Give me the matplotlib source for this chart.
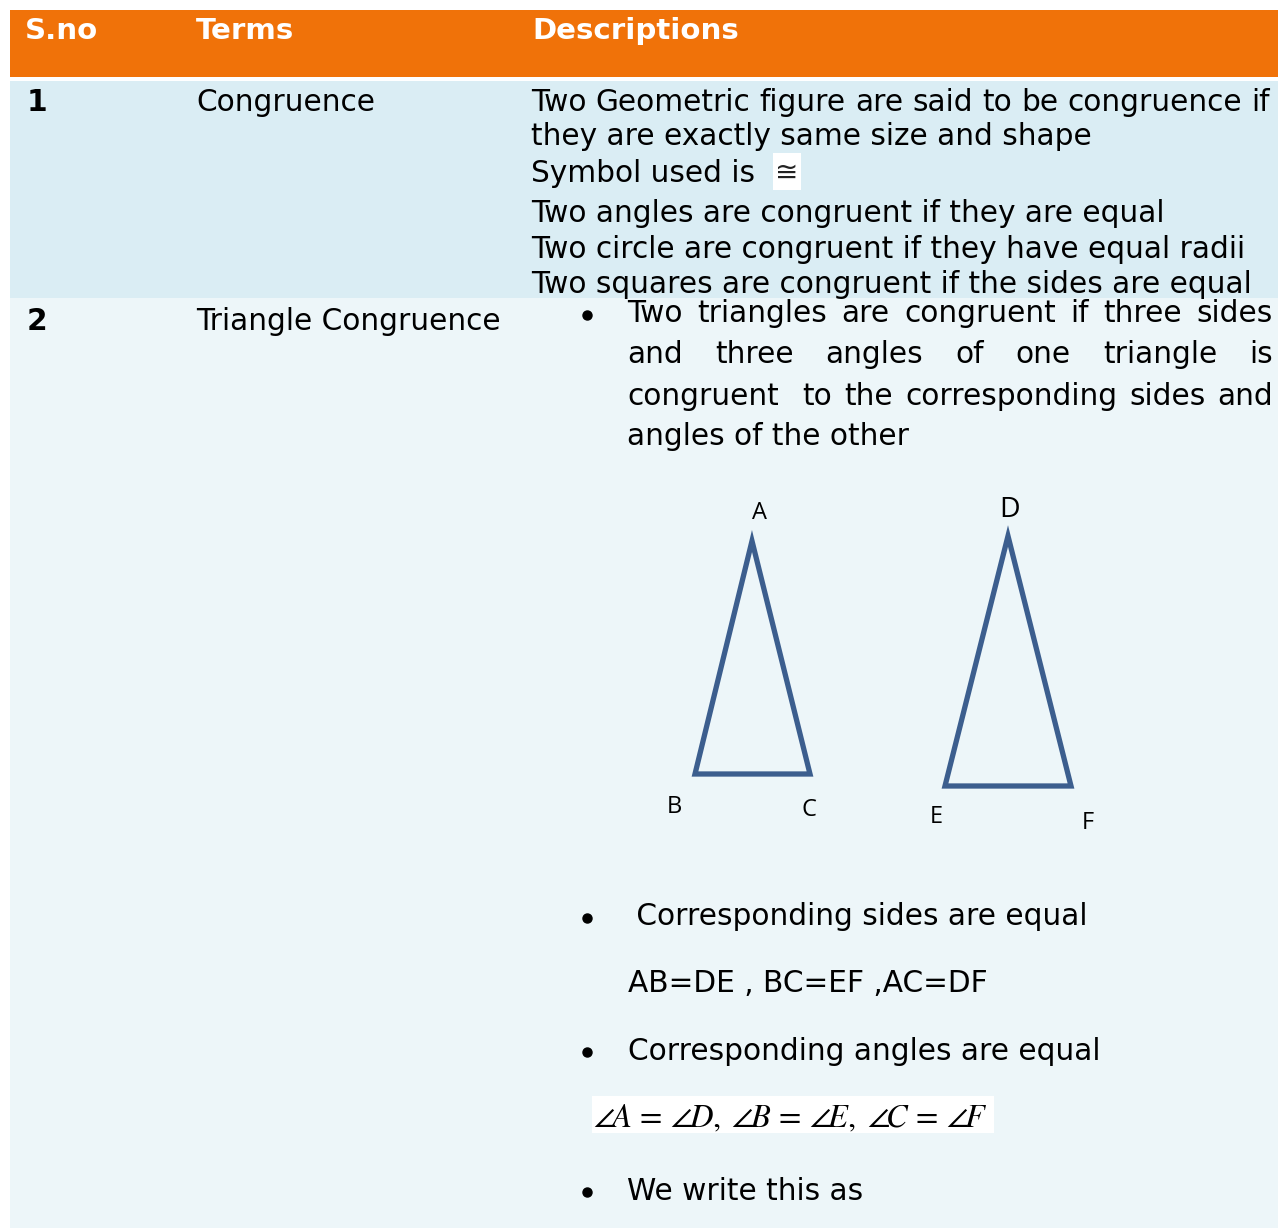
import matplotlib
matplotlib.use("Agg")
import matplotlib.pyplot as plt
from matplotlib.patches import Rectangle, Polygon

# ---------------- data ----------------
headers = ["S.no", "Terms", "Descriptions"]
row_numbers = ["1", "2"]
terms = ["Congruence", "Triangle Congruence"]
row1_lines = [
    "Two Geometric figure are said to be congruence if",
    "they are exactly same size and shape",
    "Symbol used is ",
    "Two angles are congruent if they are equal",
    "Two circle are congruent if they have equal radii",
    "Two squares are congruent if the sides are equal",
]
congruence_symbol = "\u2245"
bullet1_lines = [
    "Two triangles are congruent if three sides",
    "and three angles of one triangle is",
    "congruent  to the corresponding sides and",
    "angles of the other",
]
bullet2 = " Corresponding sides are equal"
sides_eq = "AB=DE , BC=EF ,AC=DF"
bullet3 = "Corresponding angles are equal"
angles_eq = (r"$\angle\!A\,=\,\angle\!D,\;\angle\!B\,=\,\angle\!E,\;"
             r"\angle\!C\,=\,\angle\!F$")
bullet4 = "We write this as"
tri1_names = ["A", "B", "C"]
tri1_xy = [(752, 541), (695, 774), (810, 774)]
tri2_names = ["D", "E", "F"]
tri2_xy = [(1008, 536), (945, 786), (1071, 786)]

# ---------------- style ----------------
ORANGE = "#F07209"
ROW1 = "#DAEDF4"
ROW2 = "#EDF6F9"
TRI = "#3C5E8E"
FS = 21.3
FONT = "DejaVu Sans"
plt.rcParams["mathtext.fontset"] = "stix"

fig = plt.figure(figsize=(12.78, 12.30), dpi=100)
fig.patch.set_facecolor("white")
ax = fig.add_axes([0, 0, 1, 1])
ax.set_xlim(0, 1278)
ax.set_ylim(1230, 0)
ax.axis("off")

ax.add_patch(Rectangle((10, 10), 1268, 67, facecolor=ORANGE, edgecolor="none"))
ax.add_patch(Rectangle((10, 81), 1268, 217, facecolor=ROW1, edgecolor="none"))
ax.add_patch(Rectangle((10, 298), 1268, 930, facecolor=ROW2, edgecolor="none"))

renderer = fig.canvas.get_renderer()


def txt(x, y, s, **kw):
    opts = dict(fontsize=FS, family=FONT, color="black", va="baseline", ha="left")
    opts.update(kw)
    return ax.text(x, y, s, **opts)


def justify(x0, x1, y, line, **kw):
    words = line.split(" ")
    arts = [txt(x0, y, w, **kw) for w in words]
    widths = [a.get_window_extent(renderer).width for a in arts]
    gap = (x1 - x0 - sum(widths)) / max(len(words) - 1, 1)
    x = x0
    for a, w in zip(arts, widths):
        a.set_x(x)
        x += w + gap


# header
for x, h in zip([25, 196, 532], headers):
    txt(x, 39, h, color="white", fontweight="bold", fontsize=FS * 0.99)

# row 1
txt(27, 111, row_numbers[0], fontweight="bold")
txt(196, 111, terms[0])
row1_base = [111, 145, 182, 222, 258, 293]
justify(531, 1270, row1_base[0], row1_lines[0])
for yb, line in zip(row1_base[1:], row1_lines[1:]):
    txt(531, yb, line)
ax.add_patch(Rectangle((773, 153), 28, 37, facecolor="white", edgecolor="none"))
ax.text(787, 173, congruence_symbol, fontsize=20,
        family=["DejaVu Serif", "DejaVu Sans", "Noto Sans"],
        ha="center", va="center", color="#222222")

# row 2
txt(27, 330, row_numbers[1], fontweight="bold")
txt(196, 330, terms[1])
b1_base = [322, 363, 405, 445]
for yb, line in zip(b1_base[:3], bullet1_lines[:3]):
    justify(627, 1273, yb, line)
txt(627, b1_base[3], bullet1_lines[3])

bullet_y = [315, 918, 1052, 1192]
ax.plot([587] * len(bullet_y), bullet_y, linestyle="none", marker="o",
        markersize=6.5, color="black")

txt(627, 925, bullet2)
txt(628, 992, sides_eq)
txt(628, 1060, bullet3)
txt(627, 1200, bullet4)

# angle equation on white box
ax.add_patch(Rectangle((592, 1096), 402, 37, facecolor="white", edgecolor="none"))
ang = ax.text(593, 1127, angles_eq, fontsize=26, va="baseline", ha="left", color="black")
wd = ang.get_window_extent(renderer).width
ang.set_fontsize(min(26.0, 26 * 395 / wd))

# triangles
for pts in (tri1_xy, tri2_xy):
    ax.add_patch(Polygon(pts, closed=True, fill=False, edgecolor=TRI,
                         linewidth=3.8, joinstyle="miter"))

lab_font = ["Open Sans", "DejaVu Sans"]
tri1_lab = [(760, 519, 17), (674, 813, 17), (809, 816, 17)]
tri2_lab = [(1010, 517, 20.5), (936, 823, 17), (1088, 829, 17)]
for names, labs in ((tri1_names, tri1_lab), (tri2_names, tri2_lab)):
    for n, (x, y, s) in zip(names, labs):
        ax.text(x, y, n, fontsize=s, family=lab_font, ha="center", va="baseline", color="black")

fig.savefig("out.png", dpi=100, facecolor="white")
